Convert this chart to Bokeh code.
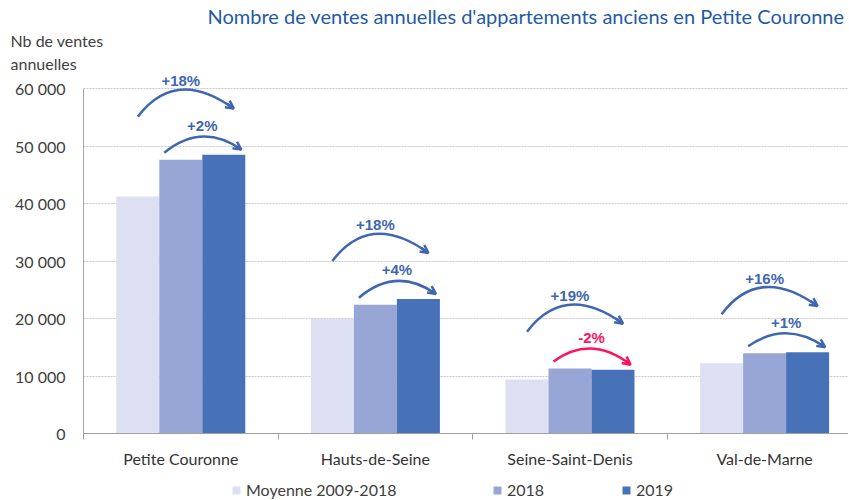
import numpy as np
from bokeh.plotting import figure
from bokeh.layouts import column
from bokeh.models import (ColumnDataSource, FixedTicker, Legend, LegendItem, Title,
                          Arrow, OpenHead, Range1d)
from bokeh.core.properties import value
from bokeh.embed import file_html
from bokeh.resources import INLINE

# ---------------- data ----------------
categories = ["Petite Couronne", "Hauts-de-Seine", "Seine-Saint-Denis", "Val-de-Marne"]
series_names = ["Moyenne 2009-2018", "2018", "2019"]
moyenne = [41200, 19900, 9400, 12200]
v2018 = [47600, 22400, 11300, 13950]
v2019 = [48500, 23400, 11100, 14150]
pct_vs_moyenne = ["+18%", "+18%", "+19%", "+16%"]
pct_vs_2018 = ["+2%", "+4%", "-2%", "+1%"]
y_ticks = [0, 10000, 20000, 30000, 40000, 50000, 60000]
y_tick_labels = ["0", "10 000", "20 000", "30 000", "40 000", "50 000", "60 000"]
title_text = "Nombre de ventes annuelles d'appartements anciens en Petite Couronne"
y_label_lines = ["Nb de ventes", "annuelles"]

# ---------------- style ----------------
colors = ["#DCE0F2", "#97A6D5", "#4872B8"]
blue = "#3F66B0"
red = "#FF1060"
FONT = "Lato"

W, H = 848, 475
LEFT, RIGHT, TOP, BOTTOM = 83, 0, 72, 42
cat_px = 194.6
px_per_unit_y = 345 / 60000.0
frame_w = W - LEFT - RIGHT
frame_h = H - TOP - BOTTOM
x_end = frame_w / cat_px
y_end = frame_h / px_per_unit_y
px_x = 1.0 / cat_px
px_y = 1.0 / px_per_unit_y
bw = 43 * px_x  # bar width in data units

p = figure(width=W, height=H, x_range=Range1d(0, x_end), y_range=Range1d(0, y_end),
           output_backend="svg", toolbar_location=None, title=None,
           min_border_left=LEFT, min_border_right=RIGHT, min_border_top=TOP,
           min_border_bottom=BOTTOM)
p.outline_line_color = None
p.background_fill_color = "white"

centers = [i + 0.5 for i in range(len(categories))]
series = [moyenne, v2018, v2019]
offsets = [-1, 0, 1]
for k, (vals, col) in enumerate(zip(series, colors)):
    src = ColumnDataSource(dict(x=[c + offsets[k] * bw for c in centers], top=vals,
                                cat=categories))
    p.vbar(x="x", top="top", width=bw, source=src, fill_color=col, line_color=None)

# ---------------- arcs and labels ----------------
arc = dict(x0=[], y0=[], x1=[], y1=[], cx=[], cy=[], color=[])
arrows = dict(xs=[], ys=[], xe=[], ye=[], color=[])
labels = dict(x=[], y=[], text=[], color=[])

def add_arc(x0, y0, x1, y1, apex_x, apex_y, color):
    cy = 2 * apex_y - 0.5 * (y0 + y1)
    cx = 2 * apex_x - 0.5 * (x0 + x1)
    arc["x0"].append(x0); arc["y0"].append(y0)
    arc["x1"].append(x1); arc["y1"].append(y1)
    arc["cx"].append(cx); arc["cy"].append(cy); arc["color"].append(color)
    arrows["xs"].append(x1 - 0.12 * (x1 - cx)); arrows["ys"].append(y1 - 0.12 * (y1 - cy))
    arrows["xe"].append(x1); arrows["ye"].append(y1); arrows["color"].append(color)

for i, c in enumerate(centers):
    # outer arc : moyenne -> 2019
    ty = v2019[i] + 46 * px_y
    x0 = c - bw
    y0 = ty - 8 * px_y
    x1 = c + bw + 10 * px_x
    apex_y = ty + 19 * px_y
    add_arc(x0, y0, x1, ty, c, apex_y, blue)
    labels["x"].append(c); labels["y"].append(apex_y + 9 * px_y)
    labels["text"].append(pct_vs_moyenne[i]); labels["color"].append(blue)
    # inner arc : 2018 -> 2019
    neg = pct_vs_2018[i].startswith("-")
    col = red if neg else blue
    sx = c - bw / 2 + 5 * px_x
    sy = v2018[i] + 7 * px_y
    ex = c + 1.5 * bw - 4 * px_x
    ey = v2019[i] + 5 * px_y
    apex_y2 = max(sy, ey) + 13 * px_y
    add_arc(sx, sy, ex, ey, c + bw / 2, apex_y2, col)
    labels["x"].append(c + bw / 2); labels["y"].append(apex_y2 + 11 * px_y)
    labels["text"].append(pct_vs_2018[i]); labels["color"].append(col)

p.quadratic(x0="x0", y0="y0", x1="x1", y1="y1", cx="cx", cy="cy", line_color="color",
            line_width=2.5, source=ColumnDataSource(arc))
arrow_src = ColumnDataSource(arrows)
p.add_layout(Arrow(end=OpenHead(size=8, line_width=2.5, line_color="color"),
                   x_start="xs", y_start="ys", x_end="xe", y_end="ye",
                   line_color="color", line_width=2.5, source=arrow_src))
p.text(x="x", y="y", text="text", text_color="color", source=ColumnDataSource(labels),
       text_font=value("Liberation Sans"), text_font_style="bold",
       text_font_size="15px", text_align="center", text_baseline="middle")

# ---------------- axes ----------------
xa = p.xaxis[0]
xa.ticker = FixedTicker(ticks=centers, minor_ticks=list(range(len(categories) + 1)))
xa.major_label_overrides = {c: name for c, name in zip(centers, categories)}
xa.major_tick_line_color = None
xa.major_tick_in = 0
xa.major_tick_out = 0
xa.minor_tick_in = 0
xa.minor_tick_out = 6
xa.minor_tick_line_color = "#A0A0A0"
xa.axis_line_color = "#A0A0A0"
xa.major_label_standoff = 9
xa.major_label_text_font = FONT
xa.major_label_text_font_size = "16px"
xa.major_label_text_color = "#333333"

ya = p.yaxis[0]
ya.ticker = FixedTicker(ticks=y_ticks)
ya.bounds = (y_ticks[0], y_ticks[-1])
ya.major_label_overrides = {t: s for t, s in zip(y_ticks, y_tick_labels)}
ya.major_tick_line_color = None
ya.major_tick_in = 0
ya.major_tick_out = 0
ya.minor_tick_line_color = None
ya.axis_line_color = "#A6A6A6"
ya.major_label_standoff = 18
ya.major_label_text_font = FONT
ya.major_label_text_font_size = "16px"
ya.major_label_text_color = "#404040"

p.xgrid.visible = False
p.ygrid.ticker = FixedTicker(ticks=y_ticks)
p.ygrid.grid_line_color = "#C8C8C8"
p.ygrid.grid_line_dash = "2 1"

# ---------------- titles (stacked above the frame) ----------------
title_standoffs = [0, 3]  # "annuelles" nearest the frame, then "Nb de ventes"
for line, so in zip(reversed(y_label_lines), title_standoffs):
    p.add_layout(Title(text=line, align="left", offset=-73, standoff=so,
                       text_font=FONT, text_font_size="16px", text_font_style="normal",
                       text_color="#404040"), "above")
p.add_layout(Title(text=title_text, align="right", offset=4, standoff=0,
                   text_font=FONT, text_font_size="20px", text_font_style="normal",
                   text_color="#1F5AA6"), "above")

# ---------------- legend strip ----------------
H2 = 24
p2 = figure(width=W, height=H2, x_range=Range1d(0, 1), y_range=Range1d(0, 1),
            output_backend="svg", toolbar_location=None, title=None,
            x_axis_type=None, y_axis_type=None,
            min_border_left=0, min_border_right=0, min_border_top=0, min_border_bottom=0)
p2.outline_line_color = None
p2.xgrid.visible = False
p2.ygrid.visible = False
legend_x = [148, 409, 538]
for k in range(3):
    # off-range proxy bar: only its legend swatch is seen
    r = p2.vbar(x=[-10], top=[-10], bottom=[-11], width=0.1, fill_color=colors[k],
                line_color=None)
    lg = Legend(items=[LegendItem(label=series_names[k], renderers=[r])],
                location=(legend_x[k], 0), orientation="horizontal",
                glyph_width=10, glyph_height=10, label_standoff=5, padding=0, margin=0,
                border_line_alpha=0, background_fill_alpha=0,
                label_text_font=FONT, label_text_font_size="16px",
                label_text_color="#404040", label_height=19)
    p2.add_layout(lg, "center")

layout = column(p, p2, spacing=0)
open("out.html", "w").write(file_html(layout, INLINE))
